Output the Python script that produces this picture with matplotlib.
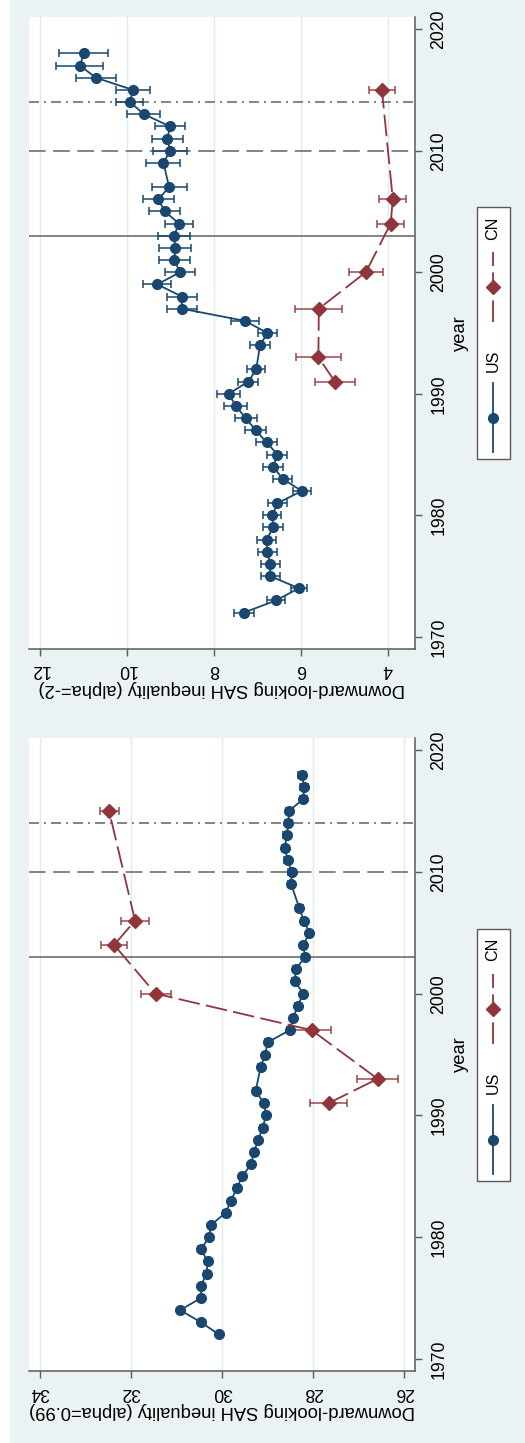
import matplotlib
matplotlib.use("Agg")
import matplotlib.pyplot as plt
from matplotlib.lines import Line2D
from matplotlib.patches import Rectangle

plt.rcParams['font.family'] = ['Liberation Sans', 'DejaVu Sans']

# ---- data ----
US_YEARS = [1972, 1973, 1974, 1975, 1976, 1977, 1978, 1979, 1980, 1981,
            1982, 1983, 1984, 1985, 1986, 1987, 1988, 1989, 1990, 1991,
            1992, 1994, 1995, 1996, 1997, 1998, 1999, 2000, 2001, 2002,
            2003, 2004, 2005, 2006, 2007, 2009, 2010, 2011, 2012, 2013,
            2014, 2015, 2016, 2017, 2018]
CN_YEARS = [1991, 1993, 1997, 2000, 2004, 2006, 2015]

# alpha = -2 panel (top)
us_m2 = [7.31, 6.57, 6.05, 6.71, 6.71, 6.77, 6.79, 6.64, 6.66, 6.54,
         5.98, 6.42, 6.64, 6.54, 6.79, 7.04, 7.27, 7.50, 7.66, 7.21,
         7.03, 6.94, 6.77, 7.29, 8.74, 8.74, 9.30, 8.78, 8.91, 8.89,
         8.92, 8.80, 9.13, 9.28, 9.03, 9.16, 9.01, 9.07, 9.01, 9.61,
         9.93, 9.86, 10.71, 11.08, 10.99]
us_m2_ci = [0.23, 0.20, 0.19, 0.22, 0.22, 0.22, 0.22, 0.23, 0.21, 0.21,
            0.20, 0.22, 0.23, 0.23, 0.25, 0.24, 0.25, 0.26, 0.26, 0.23,
            0.21, 0.23, 0.22, 0.32, 0.34, 0.34, 0.32, 0.34, 0.35, 0.37,
            0.36, 0.33, 0.36, 0.36, 0.40, 0.39, 0.38, 0.36, 0.34, 0.38,
            0.31, 0.39, 0.47, 0.54, 0.56]
cn_m2 = [5.22, 5.60, 5.59, 4.51, 3.94, 3.89, 4.14]
cn_m2_ci = [0.45, 0.52, 0.54, 0.39, 0.31, 0.31, 0.30]

# alpha = 0.99 panel (bottom)
us_099 = [30.07, 30.46, 30.92, 30.46, 30.46, 30.34, 30.31, 30.47, 30.28, 30.24,
          29.92, 29.80, 29.68, 29.55, 29.36, 29.30, 29.20, 29.11, 29.03, 29.08,
          29.26, 29.15, 29.05, 29.00, 28.51, 28.43, 28.34, 28.21, 28.40, 28.38,
          28.18, 28.21, 28.08, 28.20, 28.30, 28.48, 28.47, 28.56, 28.62, 28.58,
          28.54, 28.53, 28.21, 28.20, 28.24]
us_099_ci = [0.05, 0.05, 0.05, 0.05, 0.05, 0.05, 0.05, 0.05, 0.05, 0.05,
             0.05, 0.05, 0.05, 0.05, 0.05, 0.05, 0.05, 0.05, 0.05, 0.05,
             0.05, 0.05, 0.05, 0.06, 0.06, 0.06, 0.06, 0.06, 0.06, 0.06,
             0.06, 0.06, 0.06, 0.06, 0.07, 0.07, 0.07, 0.07, 0.07, 0.07,
             0.07, 0.07, 0.08, 0.08, 0.08]
cn_099 = [27.66, 26.58, 28.03, 31.46, 32.37, 31.91, 32.48]
cn_099_ci = [0.41, 0.45, 0.42, 0.33, 0.29, 0.31, 0.21]

YEAR_TICKS = [1970, 1980, 1990, 2000, 2010, 2020]
REF_YEARS = [2003, 2010, 2014]

NAVY = "#1a476f"
MAROON = "#90353b"
BG = "#eaf2f3"
GRID = "#e1ebee"
REF = "#6e6e6e"
AXC = "#5a5a5a"

W, H = 525, 1443


def fx(px):
    return px / W


def fy(py):
    return 1 - py / H


CN_LS = (0, (12, 3.5))


def draw_panel(fig, rect, us_v, us_c, cn_v, cn_c, xlim, xticks, xlabel):
    ax = fig.add_axes(rect)
    ax.set_facecolor('white')
    styles = ['-', (0, (10, 4.5)), (0, (6, 3, 1.2, 3))]
    for yr, ls in zip(REF_YEARS, styles):
        ax.axhline(yr, color=REF, lw=1.2, linestyle=ls, zorder=1)

    ax.errorbar(us_v, US_YEARS, xerr=us_c, fmt='none', ecolor=NAVY,
                elinewidth=1.1, capsize=3.2, capthick=1.1, zorder=2)
    ax.plot(us_v, US_YEARS, color=NAVY, lw=1.3, marker='o', ms=7, zorder=3)
    ax.errorbar(cn_v, CN_YEARS, xerr=cn_c, fmt='none', ecolor=MAROON,
                elinewidth=1.1, capsize=3.2, capthick=1.1, alpha=0.9, zorder=2)
    ax.plot(cn_v, CN_YEARS, color=MAROON, lw=1.3, ls=CN_LS, marker='D',
            ms=6.8, zorder=3)

    ax.set_xlim(*xlim)
    ax.set_ylim(1969, 2021)
    ax.grid(axis='x', color=GRID, lw=1.0)
    ax.set_axisbelow(True)

    ax.spines['top'].set_visible(False)
    ax.spines['left'].set_visible(False)
    for s in ('bottom', 'right'):
        ax.spines[s].set_color(AXC)
        ax.spines[s].set_linewidth(1.1)

    ax.yaxis.tick_right()
    ax.yaxis.set_label_position('right')
    ax.set_xticks(xticks, [str(t) for t in xticks], rotation=180, fontsize=12.7)
    ax.set_yticks(YEAR_TICKS, [str(t) for t in YEAR_TICKS], rotation=90,
                  va='center', fontsize=12.7)
    ax.tick_params(axis='x', length=5, width=1.0, color=AXC, pad=4)
    ax.tick_params(axis='y', length=5, width=1.0, color=AXC, pad=6)
    ax.set_xlabel(xlabel, rotation=180, fontsize=13.2, labelpad=1)
    ax.set_ylabel('year', rotation=90, fontsize=13.2, labelpad=3)
    return ax


def draw_legend(fig, ax):
    pos = ax.get_position()
    cy = (1 - (pos.y0 + pos.y1) / 2) * H
    lx = 493
    fig.add_artist(Rectangle((fx(477), fy(cy + 126)), 33 / W, 252 / H,
                             transform=fig.transFigure, facecolor='white',
                             edgecolor=AXC, lw=1.0))
    fig.add_artist(Line2D([fx(lx), fx(lx)], [fy(cy + 119), fy(cy + 50)],
                          transform=fig.transFigure, color=NAVY, lw=1.3))
    fig.add_artist(Line2D([fx(lx)], [fy(cy + 85)], transform=fig.transFigure,
                          color=NAVY, marker='o', ms=7))
    fig.text(fx(lx), fy(cy + 28), 'US', rotation=90, ha='center', va='center',
             fontsize=11.6)
    fig.add_artist(Line2D([fx(lx), fx(lx)], [fy(cy - 11), fy(cy - 81)],
                          transform=fig.transFigure, color=MAROON, lw=1.3,
                          ls=CN_LS))
    fig.add_artist(Line2D([fx(lx)], [fy(cy - 46)], transform=fig.transFigure,
                          color=MAROON, marker='D', ms=6.8))
    fig.text(fx(lx), fy(cy - 105), 'CN', rotation=90, ha='center', va='center',
             fontsize=11.6)


fig = plt.figure(figsize=(W / 100, H / 100), dpi=100)
fig.patch.set_facecolor('white')
fig.add_artist(Rectangle((fx(10), 0), 1 - fx(10), 1, transform=fig.transFigure,
                         facecolor=BG, edgecolor='none', zorder=-10))

ax1 = draw_panel(fig, [fx(29), fy(649), (415 - 29) / W, (649 - 17) / H],
                 us_m2, us_m2_ci, cn_m2, cn_m2_ci, (12.25, 3.38),
                 [12, 10, 8, 6, 4], 'Downward-looking SAH inequality (alpha=-2)')
ax2 = draw_panel(fig, [fx(29), fy(1371), (415 - 29) / W, (1371 - 738) / H],
                 us_099, us_099_ci, cn_099, cn_099_ci, (34.24, 25.76),
                 [34, 32, 30, 28, 26], 'Downward-looking SAH inequality (alpha=0.99)')
draw_legend(fig, ax1)
draw_legend(fig, ax2)

fig.savefig("out.png", dpi=100, facecolor=fig.get_facecolor())
